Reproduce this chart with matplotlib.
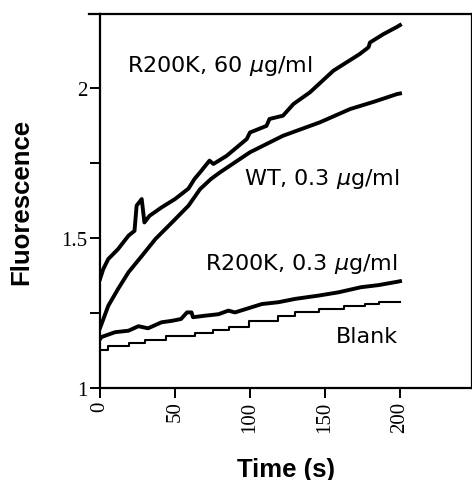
import numpy as np
import matplotlib
matplotlib.use('Agg')
import matplotlib.pyplot as plt

# time (s) vs fluorescence
t_r60 = [0, 2.2, 5.5, 12, 19, 23, 24.4, 27.8, 29.6, 33, 41, 50, 59, 63, 66.7, 73, 75.6,
         84.4, 97.8, 100, 111, 113, 122, 129, 140, 155.6, 173, 179, 180, 189, 198, 200]
f_r60 = [1.363, 1.397, 1.43, 1.463, 1.508, 1.524, 1.608, 1.63, 1.552, 1.574, 1.602, 1.63,
         1.665, 1.697, 1.719, 1.758, 1.747, 1.774, 1.83, 1.852, 1.874, 1.897, 1.908, 1.947,
         1.986, 2.058, 2.113, 2.136, 2.152, 2.18, 2.204, 2.21]

t_wt = [0, 1, 5.5, 12, 19, 28, 37, 48, 59, 66.7, 74, 80, 100, 122, 146.7, 166.7, 183, 198, 200]
f_wt = [1.2, 1.213, 1.274, 1.33, 1.386, 1.441, 1.497, 1.552, 1.608, 1.663, 1.697, 1.719,
        1.786, 1.841, 1.886, 1.93, 1.955, 1.98, 1.982]

t_r03 = [0, 1, 10, 19, 25.6, 32, 41, 48, 54, 58, 61, 62, 70, 79, 85.6, 90, 99, 108, 119,
         130, 145.6, 159, 174, 185.6, 198, 200]
f_r03 = [1.163, 1.17, 1.186, 1.191, 1.206, 1.199, 1.219, 1.224, 1.23, 1.252, 1.252, 1.236,
         1.241, 1.246, 1.258, 1.252, 1.266, 1.28, 1.286, 1.297, 1.308, 1.319, 1.336, 1.343,
         1.354, 1.356]

t_blank = [0.5, 5.5, 19, 30, 44, 63, 75, 86, 99, 119, 130, 146, 163, 177, 186, 200]
f_blank = [1.127, 1.139, 1.149, 1.161, 1.172, 1.185, 1.195, 1.205, 1.222, 1.241, 1.252,
           1.263, 1.272, 1.28, 1.286, 1.286]

plt.rcParams['mathtext.fontset'] = 'dejavusans'

fig = plt.figure(figsize=(4.72, 4.81), dpi=100)
ax = fig.add_axes([0.2119, 0.1913, 0.7871, 0.7775])

ax.plot(t_r60, f_r60, color='black', lw=2.8, solid_joinstyle='round')
ax.plot(t_wt, f_wt, color='black', lw=2.8, solid_joinstyle='round')
ax.plot(t_r03, f_r03, color='black', lw=2.8, solid_joinstyle='round')
ax.plot(t_blank, f_blank, color='black', lw=1.5, drawstyle='steps-post')

ax.set_xlim(0, 247.7)
ax.set_ylim(1, 2.247)

ax.set_xticks([0, 50, 100, 150, 200])
ax.set_yticks([1, 1.5, 2])
ax.set_yticklabels(['1', '1.5', '2'])
ax.set_yticks([1.25, 1.75], minor=True)

for lab in ax.get_xticklabels():
    lab.set_fontfamily('Liberation Serif')
    lab.set_fontsize(15)
    lab.set_rotation(90)
for lab in ax.get_yticklabels():
    lab.set_fontfamily('Liberation Serif')
    lab.set_fontsize(15)

ax.tick_params(axis='both', which='both', direction='out', length=7, width=1.4, pad=2)

for sp in ax.spines.values():
    sp.set_linewidth(1.6)

# top border overhangs the left spine a little
ax.plot([-0.03, 0], [1, 1], transform=ax.transAxes, color='black', lw=1.6, clip_on=False)

ax.set_xlabel('Time (s)', family='Liberation Sans', fontweight='bold', fontsize=18.5, labelpad=18)
ax.set_ylabel('Fluorescence', family='Liberation Sans', fontweight='bold', fontsize=18.5, labelpad=20)

txt = dict(fontsize=16, family='DejaVu Sans', color='black', va='baseline')
ax.text(18, 2.057, r'R200K, 60 $\mu$g/ml', ha='left', **txt)
ax.text(200, 1.68, r'WT, 0.3 $\mu$g/ml', ha='right', **txt)
ax.text(198.7, 1.397, r'R200K, 0.3 $\mu$g/ml', ha='right', **txt)
ax.text(198.7, 1.153, 'Blank', ha='right', **txt)

fig.savefig('out.png', dpi=100)
